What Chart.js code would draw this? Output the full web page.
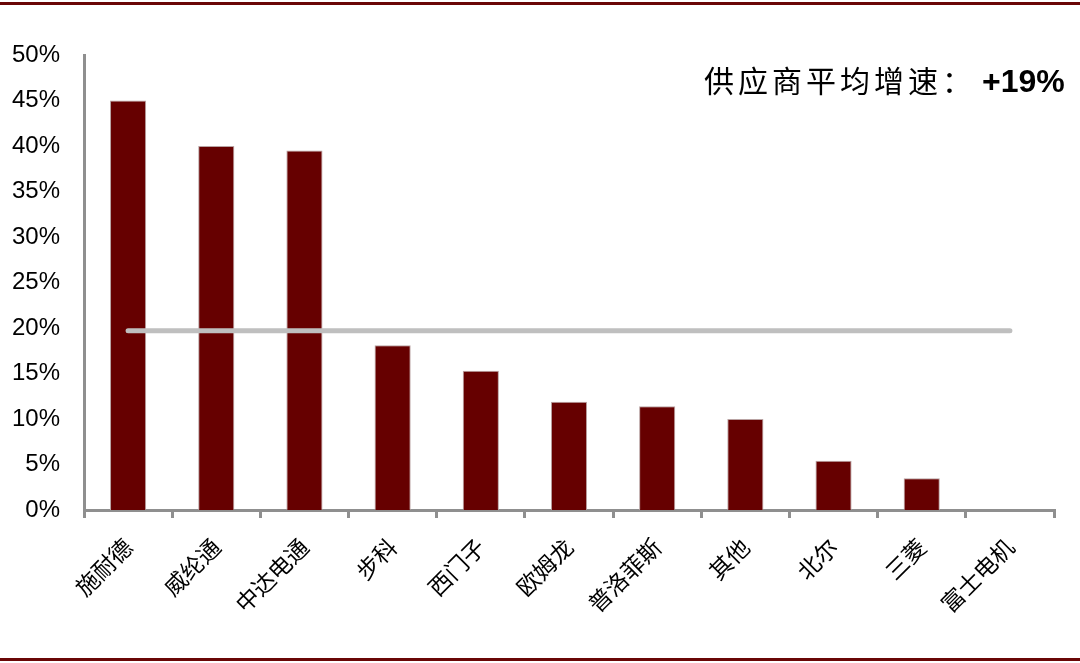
<!DOCTYPE html>
<html>
<head>
<meta charset="utf-8">
<script src="https://cdn.jsdelivr.net/npm/chart.js@4"></script>
<style>
  html, body { margin: 0; padding: 0; background: #fff; }
  #wrap { position: relative; width: 1080px; height: 663px; }
</style>
</head>
<body>
<div id="wrap"><canvas id="supplierChart" width="1080" height="663"></canvas></div>
<script>
// 供应商增速
const suppliers = ['施耐德', '威纶通', '中达电通', '步科', '西门子', '欧姆龙', '普洛菲斯', '其他', '北尔', '三菱', '富士电机'];
const growth = [45.0, 40.0, 39.5, 18.1, 15.3, 11.9, 11.4, 10.0, 5.4, 3.5, 0];
const avgLine = [19.7, 19.7, 19.7, 19.7, 19.7, 19.7, 19.7, 19.7, 19.7, 19.7, 19.7];
const yTicks = [0, 5, 10, 15, 20, 25, 30, 35, 40, 45, 50];
const noteText = '供应商平均增速：';
const noteValue = '+19%';

const frameAndNote = {
    id: 'frameAndNote',
    afterDraw(chart) {
        const ctx = chart.ctx;
        ctx.save();
        // 上下边框
        ctx.fillStyle = '#6a0606';
        ctx.fillRect(0, 2, chart.width, 3);
        ctx.fillRect(0, 658, chart.width, 3);
        // 注释
        ctx.fillStyle = '#000';
        ctx.textBaseline = 'alphabetic';
        ctx.font = '30px "Noto Sans CJK SC"';
        ctx.letterSpacing = '4px';
        ctx.fillText(noteText, 704, 92);
        ctx.letterSpacing = '0px';
        ctx.font = 'bold 32px "Liberation Sans", Arial';
        ctx.fillText(noteValue, 982, 92);
        ctx.restore();
    }
};

const ctx = document.getElementById('supplierChart').getContext('2d');
new Chart(ctx, {
    data: {
        labels: suppliers,
        datasets: [
            {
                type: 'line',
                data: avgLine,
                borderColor: '#bfbfbf',
                borderWidth: 5,
                borderCapStyle: 'round',
                pointRadius: 0,
                fill: false,
                order: 0
            },
            {
                type: 'bar',
                data: growth,
                backgroundColor: '#660000',
                borderColor: '#b9a3a3',
                borderWidth: 1,
                categoryPercentage: 1,
                barPercentage: 0.41,
                order: 1
            }
        ]
    },
    options: {
        responsive: false,
        animation: false,
        layout: { padding: { top: 55, right: 26, left: 0, bottom: 0 } },
        plugins: {
            legend: { display: false },
            tooltip: { enabled: false }
        },
        scales: {
            x: {
                offset: true,
                grid: {
                    display: true,
                    offset: true,
                    drawOnChartArea: false,
                    drawTicks: true,
                    tickLength: 8,
                    color: '#8f8f8f',
                    lineWidth: 3
                },
                border: { display: true, color: '#8f8f8f', width: 3 },
                ticks: {
                    minRotation: 45,
                    maxRotation: 45,
                    autoSkip: false,
                    padding: 15,
                    color: '#000',
                    font: { family: '"Noto Sans CJK SC"', size: 23 }
                },
                afterFit(scale) { scale.height = 153; }
            },
            y: {
                min: 0,
                max: 50,
                afterBuildTicks(scale) { scale.ticks = yTicks.map(v => ({ value: v })); },
                grid: { display: false, drawTicks: false },
                border: { display: true, color: '#8f8f8f', width: 3 },
                ticks: {
                    padding: 24,
                    color: '#000',
                    font: { family: '"Liberation Sans", Arial', size: 24 },
                    callback: v => v + '%'
                },
                afterFit(scale) { scale.width = 84; }
            }
        }
    },
    plugins: [frameAndNote]
});
</script>
</body>
</html>
